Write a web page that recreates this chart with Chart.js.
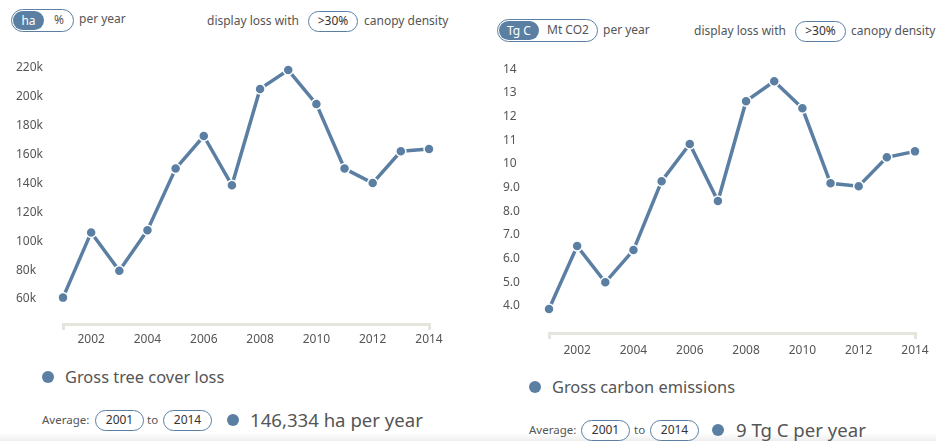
<!DOCTYPE html>
<html>
<head>
<meta charset="utf-8">
<script src="https://cdn.jsdelivr.net/npm/chart.js@4"></script>
<style>
  body { margin: 0; width: 936px; height: 441px; overflow: hidden; background: #fff;
         font-family: "Noto Sans", "Open Sans", sans-serif; color: #555; position: relative; }
  .abs { position: absolute; white-space: nowrap; }
  .pill { position: absolute; border: 1.5px solid #5b7fa3; border-radius: 12px; box-sizing: border-box;
          font-size: 12px; color: #333; text-align: center; background: #fff; }
  .toggle { position: absolute; border: 1.5px solid #5b7fa3; border-radius: 12px; box-sizing: border-box;
            font-size: 12px; color: #555; }
  .toggle .on { position: absolute; top: 1px; bottom: 1px; left: 1px; background: #5b7fa3; color: #fff;
                border-radius: 10px; text-align: center; }
  .toggle .off { position: absolute; top: 0; bottom: 0; text-align: center; }
  .dot { position: absolute; width: 12px; height: 12px; border-radius: 6px; background: #5b7fa3; }
  .chartbox { position: absolute; }
  .fade { position: absolute; left: 0; right: 0; top: 433px; height: 8px;
          background: linear-gradient(#fff, #eeeeee); }
  .hdr { font-size: 12px; line-height: 20px; }
</style>
</head>
<body>
<div class="fade"></div>

<!-- left header -->
<div class="toggle" style="left:11px;top:9px;width:63px;height:23px;line-height:20px;">
  <div class="on" style="width:31px;">ha</div>
  <div class="off" style="left:35px;width:24px;">%</div>
</div>
<div class="abs hdr" style="left:79px;top:9px;">per year</div>
<div class="abs hdr" style="left:207px;top:11px;">display loss with</div>
<div class="pill" style="left:308px;top:11px;width:50px;height:21px;line-height:18px;">&gt;30%</div>
<div class="abs hdr" style="left:364px;top:11px;">canopy density</div>

<!-- right header -->
<div class="toggle" style="left:497px;top:19px;width:101px;height:23px;line-height:20px;">
  <div class="on" style="width:40px;">Tg C</div>
  <div class="off" style="left:46px;width:48px;">Mt CO2</div>
</div>
<div class="abs hdr" style="left:603px;top:20px;">per year</div>
<div class="abs hdr" style="left:694px;top:21px;">display loss with</div>
<div class="pill" style="left:795px;top:21px;width:51px;height:21px;line-height:18px;">&gt;30%</div>
<div class="abs hdr" style="left:851px;top:21px;">canopy density</div>

<div class="chartbox" style="left:0;top:50px;width:470px;height:300px;"><canvas id="lossChart"></canvas></div>
<div class="chartbox" style="left:470px;top:50px;width:466px;height:310px;"><canvas id="carbonChart"></canvas></div>

<!-- left legend / average -->
<div class="dot" style="left:42px;top:371px;"></div>
<div class="abs" style="left:65px;top:365px;font-size:16.4px;line-height:24px;">Gross tree cover loss</div>
<div class="abs" style="left:42px;top:411px;font-size:11.5px;line-height:18px;">Average:</div>
<div class="pill" style="left:95px;top:410px;width:49px;height:21px;line-height:18px;">2001</div>
<div class="abs" style="left:147px;top:411px;font-size:11.5px;line-height:18px;">to</div>
<div class="pill" style="left:163px;top:410px;width:49px;height:21px;line-height:18px;">2014</div>
<div class="dot" style="left:227px;top:414px;"></div>
<div class="abs" style="left:250px;top:406px;font-size:18.6px;line-height:28px;">146,334 ha per year</div>

<!-- right legend / average -->
<div class="dot" style="left:529px;top:381px;"></div>
<div class="abs" style="left:552px;top:375px;font-size:16.4px;line-height:24px;">Gross carbon emissions</div>
<div class="abs" style="left:529px;top:421px;font-size:11.5px;line-height:18px;">Average:</div>
<div class="pill" style="left:581px;top:420px;width:49px;height:21px;line-height:18px;">2001</div>
<div class="abs" style="left:634px;top:421px;font-size:11.5px;line-height:18px;">to</div>
<div class="pill" style="left:650px;top:420px;width:49px;height:21px;line-height:18px;">2014</div>
<div class="dot" style="left:712px;top:424px;"></div>
<div class="abs" style="left:736px;top:416px;font-size:18.6px;line-height:28px;">9 Tg C per year</div>

<script>
  const years = [2001, 2002, 2003, 2004, 2005, 2006, 2007, 2008, 2009, 2010, 2011, 2012, 2013, 2014];
  const treeCoverLoss = [61000, 106000, 79500, 107500, 150000, 172500, 138500, 205000, 218000, 194500, 150000, 140000, 162000, 163500];
  const carbonEmissions = [3.87, 6.53, 5.0, 6.36, 9.27, 10.84, 8.43, 12.65, 13.49, 12.35, 9.18, 9.06, 10.28, 10.53];
  const lossTicks = [60000, 80000, 100000, 120000, 140000, 160000, 180000, 200000, 220000];
  const carbonTicks = [4, 5, 6, 7, 8, 9, 10, 11, 12, 13, 14];

  const blue = '#5b7fa3';
  const axisGrey = '#e5e5de';
  const tickFont = { family: '"Noto Sans", sans-serif', size: 12 };

  function makeChart(id, values, yTicks, yFmt, yMin, yMax, pad, yWidth, xHeight, xPad) {
    const pts = years.map((y, i) => ({ x: y, y: values[i] }));
    return new Chart(document.getElementById(id), {
      type: 'line',
      data: {
        datasets: [{
          data: pts,
          borderColor: blue,
          borderWidth: 3.5,
          backgroundColor: blue,
          pointBackgroundColor: blue,
          pointBorderColor: '#fff',
          pointBorderWidth: 1.5,
          pointRadius: 5,
          tension: 0,
          clip: false
        }]
      },
      options: {
        responsive: true,
        maintainAspectRatio: false,
        animation: false,
        layout: { padding: pad },
        plugins: { legend: { display: false }, tooltip: { enabled: false } },
        scales: {
          x: {
            type: 'linear',
            min: years[0],
            max: years[years.length - 1],
            afterFit: (s) => { s.height = xHeight; },
            border: { color: axisGrey, width: 3 },
            grid: {
              drawOnChartArea: false,
              tickLength: 6,
              lineWidth: 3,
              color: (c) => (c.index === 0 || c.index === years.length - 1) ? axisGrey : 'transparent'
            },
            ticks: {
              stepSize: 1,
              autoSkip: false,
              maxRotation: 0,
              padding: xPad,
              color: '#555',
              font: tickFont,
              callback: (v) => (v % 2 === 0 ? String(v) : '')
            }
          },
          y: {
            min: yMin,
            max: yMax,
            afterBuildTicks: (s) => { s.ticks = yTicks.map(v => ({ value: v })); },
            afterFit: (s) => { s.width = yWidth; },
            border: { display: false },
            grid: { display: false },
            ticks: {
              crossAlign: 'far',
              color: '#555',
              font: tickFont,
              callback: yFmt
            }
          }
        }
      }
    });
  }

  makeChart('lossChart', treeCoverLoss, lossTicks, (v) => (v / 1000) + 'k',
    42800, 224800, { left: 16, right: 41, top: 10, bottom: 0 }, 47, 26, 2);

  makeChart('carbonChart', carbonEmissions, carbonTicks, (v) => (v < 10 ? v.toFixed(1) : String(v)),
    2.86, 14.38, { left: 33, right: 21, top: 10, bottom: 0 }, 46, 27, 4);
</script>
</body>
</html>
